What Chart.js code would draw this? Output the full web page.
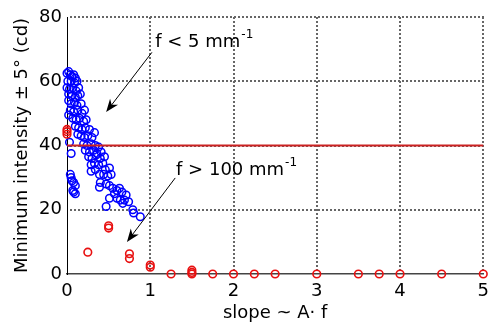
<!DOCTYPE html>
<html>
<head>
<meta charset="utf-8">
<script src="https://cdn.jsdelivr.net/npm/chart.js@4"></script>
<style>
  html, body { margin: 0; padding: 0; background: #fff; }
  #wrap { width: 496px; height: 325px; }
</style>
</head>
<body>
<div id="wrap"><canvas id="grafico" width="496" height="325"></canvas></div>
<script>
// f < 5 mm^-1 (azul)
const bajaX = [0.00, 0.02, 0.04, 0.06, 0.08, 0.10, 0.01, 0.05, 0.09, 0.12,
  0.00, 0.03, 0.07, 0.11, 0.14, 0.02, 0.06, 0.10, 0.13, 0.16,
  0.02, 0.05, 0.09, 0.12, 0.17, 0.04, 0.08, 0.13, 0.18, 0.21,
  0.07, 0.11, 0.15, 0.20, 0.23, 0.10, 0.14, 0.18, 0.22, 0.27,
  0.13, 0.17, 0.21, 0.25, 0.30, 0.33, 0.20, 0.24, 0.29, 0.34,
  0.38, 0.22, 0.27, 0.32, 0.36, 0.41, 0.26, 0.30, 0.35, 0.40,
  0.45, 0.29, 0.33, 0.38, 0.43, 0.51, 0.46, 0.29, 0.34, 0.39,
  0.44, 0.49, 0.53, 0.40, 0.47, 0.39, 0.51, 0.55, 0.63, 0.57,
  0.60, 0.66, 0.71, 0.51, 0.60, 0.64, 0.69, 0.67, 0.47, 0.74,
  0.79, 0.80, 0.88,
  0.02, 0.03, 0.05, 0.04, 0.05, 0.08, 0.10, 0.07, 0.10, 0.06, 0.08];
const bajaY = [62.5, 63, 62, 61.5, 62, 61, 60, 60, 59.5, 60,
  58, 57.5, 58, 57, 58, 56, 55.5, 55, 55.5, 56,
  54, 53, 53.5, 52.5, 53, 51, 50.5, 51, 50, 51,
  48.5, 48, 48.5, 47.5, 48, 46, 45.5, 45, 45.5, 45,
  43.5, 43, 42.5, 43, 42.5, 44, 40.5, 40, 40.5, 40,
  39.5, 38.5, 38, 38.5, 37.5, 38, 36.5, 36, 37, 36,
  36.5, 34, 34.5, 34, 34.5, 33, 32.5, 32, 32.5, 31,
  31, 30.5, 31, 28.5, 28, 27, 27.5, 26.7, 26.7, 25,
  26, 25.5, 24.6, 23.6, 23.6, 23, 23, 22, 21, 22.5,
  20, 19, 17.8,
  49.5, 41, 37.5, 31, 30, 28.5, 27.5, 26, 25, 29, 25.5];

// f > 100 mm^-1 (rojo)
const altaX = [0, 0, 0, 0.25, 0.5, 0.5, 0.75, 0.75, 1, 1,
  1.25, 1.5, 1.5, 1.5, 1.75, 2, 2.25, 2.5, 3, 3.5, 3.75, 4, 4.5, 5];
const altaY = [43.5, 44.3, 45, 6.8, 15, 14.3, 6.3, 4.8, 2.8, 2.1,
  0, 1.2, 0.5, 0, 0, 0, 0, 0, 0, 0, 0, 0, 0, 0];

const umbral = 40;
const rangoX = [0, 5];
const rangoY = [0, 80];

const fuente = 'DejaVu Sans';

const puntos = (xs, ys) => xs.map((x, i) => ({ x: x, y: ys[i] }));

// textos y flechas
const notas = [
  { texto: 'f < 5 mm', sup: '-1', tx: 1.06, ty: 70.7, desde: [1.02, 69], hasta: [0.47, 50.4] },
  { texto: 'f > 100 mm', sup: '-1', tx: 1.31, ty: 30.8, desde: [1.30, 29.9], hasta: [0.72, 10] }
];

// rejilla punteada a partir de los ticks de cada escala
function dibujarRejilla(chart) {
  const { ctx, chartArea: a, scales: { x, y } } = chart;
  ctx.save();
  ctx.fillStyle = '#666';
  x.ticks.forEach(t => {
    if (t.value === rangoX[0]) return;
    const px = Math.round(x.getPixelForValue(t.value));
    for (let py = Math.round(a.bottom) - 4; py >= a.top - 1; py -= 4) ctx.fillRect(px - 1, py - 1, 2, 2);
  });
  y.ticks.forEach(t => {
    if (t.value === rangoY[0]) return;
    const py = Math.round(y.getPixelForValue(t.value));
    for (let px = Math.round(a.left) + 4; px <= a.right + 1; px += 4) ctx.fillRect(px - 1, py - 1, 2, 2);
  });
  ctx.restore();
}

function dibujarNotas(chart) {
  const { ctx, scales: { x, y } } = chart;
  ctx.save();
  ctx.fillStyle = '#000';
  ctx.strokeStyle = '#000';
  notas.forEach(n => {
    const px = x.getPixelForValue(n.tx);
    const py = y.getPixelForValue(n.ty);
    ctx.font = '18px "' + fuente + '"';
    ctx.textBaseline = 'alphabetic';
    ctx.textAlign = 'left';
    ctx.fillText(n.texto, px, py);
    const w = ctx.measureText(n.texto).width;
    ctx.font = '12px "' + fuente + '"';
    ctx.fillText(n.sup, px + w + 1, py - 9);

    const x1 = x.getPixelForValue(n.desde[0]);
    const y1 = y.getPixelForValue(n.desde[1]);
    const x2 = x.getPixelForValue(n.hasta[0]);
    const y2 = y.getPixelForValue(n.hasta[1]);
    const ang = Math.atan2(y2 - y1, x2 - x1);
    ctx.lineWidth = 1;
    ctx.beginPath();
    ctx.moveTo(x1, y1);
    ctx.lineTo(x2 - 8 * Math.cos(ang), y2 - 8 * Math.sin(ang));
    ctx.stroke();
    // punta de flecha
    const L = 13, H = 5;
    ctx.beginPath();
    ctx.moveTo(x2, y2);
    ctx.lineTo(x2 - L * Math.cos(ang) + H * Math.sin(ang), y2 - L * Math.sin(ang) - H * Math.cos(ang));
    ctx.lineTo(x2 - 0.7 * L * Math.cos(ang), y2 - 0.7 * L * Math.sin(ang));
    ctx.lineTo(x2 - L * Math.cos(ang) - H * Math.sin(ang), y2 - L * Math.sin(ang) + H * Math.cos(ang));
    ctx.closePath();
    ctx.fill();
  });
  ctx.restore();
}

const rejilla = {
  id: 'rejilla',
  beforeDatasetsDraw(chart) { dibujarRejilla(chart); }
};

const extras = {
  id: 'extras',
  afterDraw(chart) { dibujarNotas(chart); }
};

new Chart(document.getElementById('grafico'), {
  type: 'scatter',
  data: {
    datasets: [
      {
        type: 'line',
        label: 'umbral',
        data: [{ x: rangoX[0], y: umbral }, { x: rangoX[1], y: umbral }],
        borderColor: '#cc2222',
        borderWidth: 2,
        pointRadius: 0,
        order: 0
      },
      {
        label: 'f > 100 mm-1',
        data: puntos(altaX, altaY),
        pointStyle: 'circle',
        pointRadius: 3.8,
        borderWidth: 1.6,
        borderColor: '#e81010',
        backgroundColor: 'rgba(0,0,0,0)',
        order: 1
      },
      {
        label: 'f < 5 mm-1',
        data: puntos(bajaX, bajaY),
        pointStyle: 'circle',
        pointRadius: 3.8,
        borderWidth: 1.5,
        borderColor: '#0000ff',
        backgroundColor: 'rgba(0,0,0,0)',
        order: 2
      }
    ]
  },
  options: {
    responsive: false,
    animation: false,
    clip: false,
    layout: { padding: { top: 17, right: 6, left: 0, bottom: 0 } },
    plugins: { legend: { display: false }, tooltip: { enabled: false } },
    scales: {
      x: {
        type: 'linear',
        min: rangoX[0],
        max: rangoX[1],
        afterFit: s => { s.height = 51; },
        ticks: { stepSize: 1, color: '#000', padding: 7, font: { family: fuente, size: 18 } },
        grid: { display: false, drawTicks: false },
        border: { display: true, color: '#444', width: 1.5 },
        title: { display: true, text: 'slope ~ A· f', color: '#000', padding: { top: 0, bottom: 1 }, font: { family: fuente, size: 18 } }
      },
      y: {
        min: rangoY[0],
        max: rangoY[1],
        afterFit: s => { s.width = 67; },
        ticks: { stepSize: 20, color: '#000', padding: 5, font: { family: fuente, size: 18 } },
        grid: { display: false, drawTicks: false },
        border: { display: true, color: '#000', width: 1 },
        title: { display: true, text: 'Minimum intensity ± 5° (cd)', color: '#000', padding: { top: 12, bottom: 0 }, font: { family: fuente, size: 18 } }
      }
    }
  },
  plugins: [rejilla, extras]
});
</script>
</body>
</html>
